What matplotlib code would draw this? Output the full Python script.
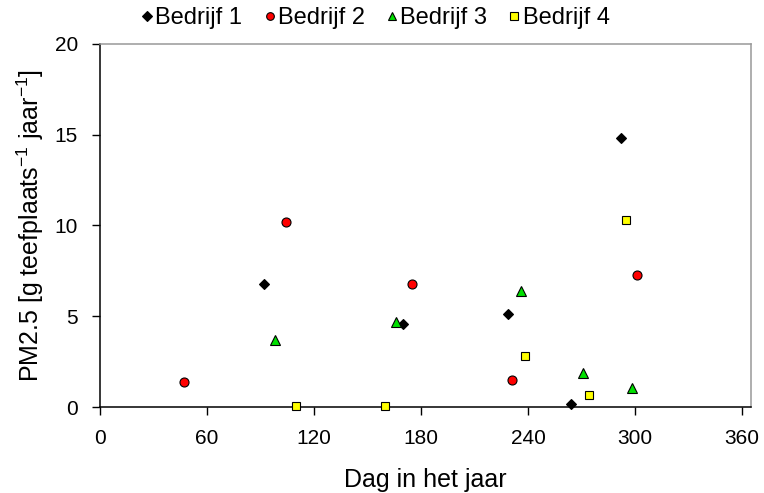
import matplotlib
matplotlib.use("Agg")
import matplotlib.pyplot as plt

plt.rcParams['font.family'] = ['Liberation Sans', 'DejaVu Sans']
plt.rcParams['mathtext.fontset'] = 'custom'
plt.rcParams['mathtext.rm'] = 'Liberation Sans'
plt.rcParams['mathtext.it'] = 'Liberation Sans'
plt.rcParams['mathtext.default'] = 'regular'

# day of year / PM2.5 per farm
b1_day = [92, 170, 229, 264, 292]
b1_pm = [6.8, 4.6, 5.1, 0.15, 14.8]
b2_day = [47, 104, 175, 231, 301]
b2_pm = [1.4, 10.2, 6.8, 1.5, 7.3]
b3_day = [98, 166, 236, 271, 298]
b3_pm = [3.7, 4.7, 6.4, 1.9, 1.05]
b4_day = [110, 160, 238, 274, 295]
b4_pm = [0.05, 0.05, 2.8, 0.65, 10.3]

labels = ["Bedrijf 1", "Bedrijf 2", "Bedrijf 3", "Bedrijf 4"]
x_ticks = [0, 60, 120, 180, 240, 300, 360]
y_ticks = [0, 5, 10, 15, 20]

fig = plt.figure(figsize=(7.64, 4.93), dpi=100)
ax = fig.add_axes([0.131, 0.1744, 0.852, 0.7364])

ax.plot(b1_day, b1_pm, 'D', color='black', markersize=5.5, markeredgecolor='black',
        markeredgewidth=0.8, label=labels[0], clip_on=False, zorder=3)
ax.plot(b2_day, b2_pm, 'o', color='#ff0000', markersize=6.5, markeredgecolor='black',
        markeredgewidth=0.8, label=labels[1], clip_on=False, zorder=3)
ax.plot(b3_day, b3_pm, '^', color='#00e000', markersize=7, markeredgecolor='black',
        markeredgewidth=0.8, label=labels[2], clip_on=False, zorder=3)
ax.plot(b4_day, b4_pm, 's', color='#ffff00', markersize=6, markeredgecolor='black',
        markeredgewidth=0.8, label=labels[3], clip_on=False, zorder=3)

ax.set_xlim(0, 365)
ax.set_ylim(0, 20)
ax.set_xticks(x_ticks)
ax.set_yticks(y_ticks)
ax.tick_params(direction='out', length=6, width=1, labelsize=15, pad=10)

for side in ['left', 'bottom']:
    ax.spines[side].set_color('black')
    ax.spines[side].set_linewidth(1.1)
for side in ['top', 'right']:
    ax.spines[side].set_color('#999999')
    ax.spines[side].set_linewidth(1.1)

ax.set_xlabel("Dag in het jaar", fontsize=18, labelpad=14)
ax.set_ylabel("PM2.5 [g teefplaats$^{-1}$ jaar$^{-1}$]", fontsize=18, labelpad=6)

fig.legend(loc='center', bbox_to_anchor=(0.493, 0.963), ncol=4, frameon=False,
           fontsize=17, handlelength=0.3, handletextpad=0.2, columnspacing=1.0,
           markerscale=0.85)

fig.savefig("out.png", dpi=100)
